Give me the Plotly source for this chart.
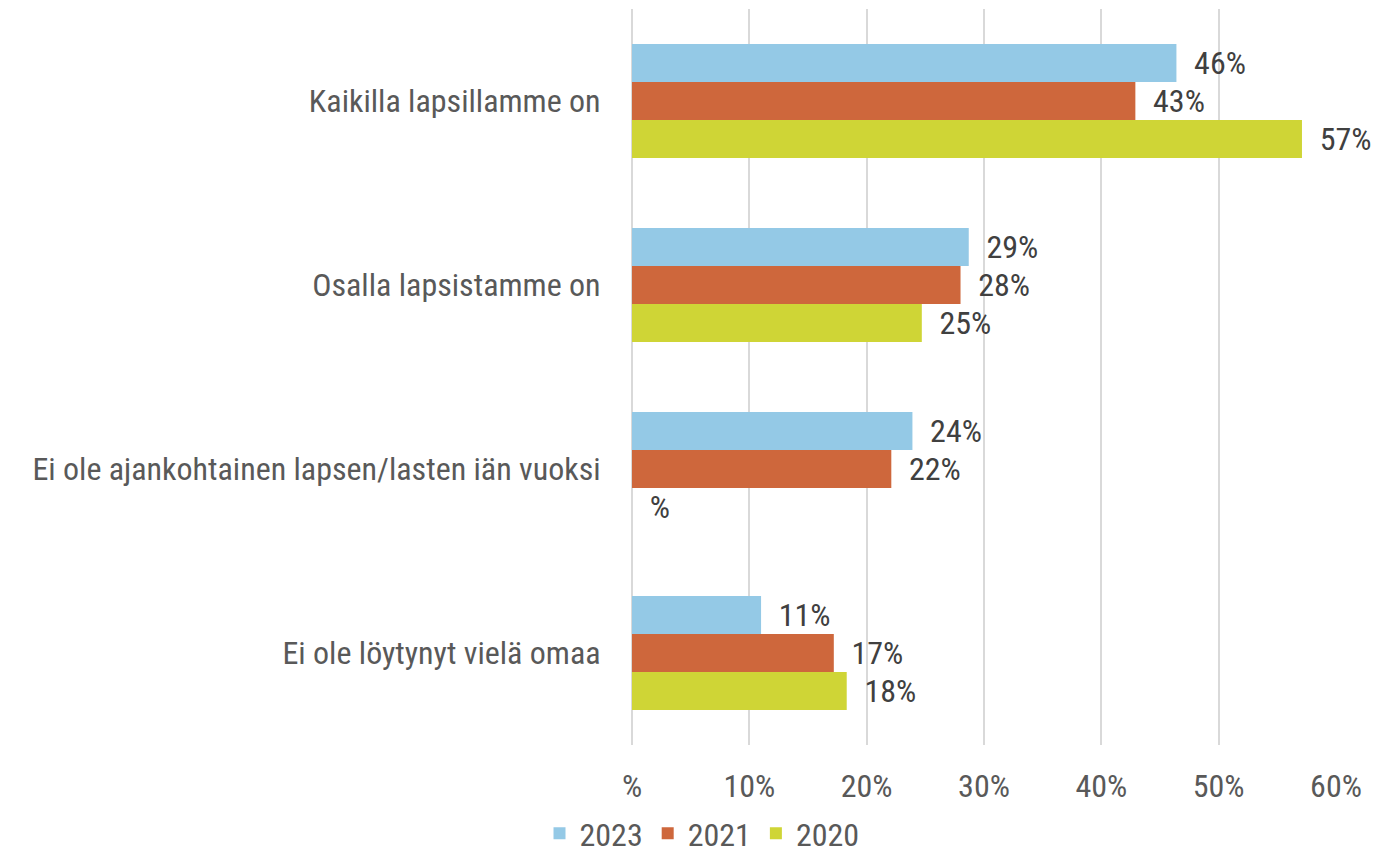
import plotly.graph_objects as go

categories = ["Kaikilla lapsillamme on", "Osalla lapsistamme on",
              "Ei ole ajankohtainen lapsen/lasten iän vuoksi", "Ei ole löytynyt vielä omaa"]
series_names = ["2023", "2021", "2020"]
values_2023 = [46.4, 28.7, 23.9, 11.0]
values_2021 = [42.9, 28.0, 22.1, 17.2]
values_2020 = [57.1, 24.7, None, 18.3]
colors = ["#94C9E6", "#CE673C", "#CFD536"]
tick_vals = [0, 10, 20, 30, 40, 50, 60]
tick_text = ["%", "10%", "20%", "30%", "40%", "50%", "60%"]

FONT = "Liberation Sans Narrow, Arial Narrow, Roboto Condensed, Liberation Sans, sans-serif"
FS = 32
pad = "\u00a0\u00a0"

fig = go.Figure()
for name, vals, col in zip(series_names, [values_2023, values_2021, values_2020], colors):
    xs = [v if v is not None else 0 for v in vals]
    txt = [pad + (f"{round(v)}%" if v is not None else "%") for v in vals]
    fig.add_trace(go.Bar(
        y=categories, x=xs, name=name, orientation="h",
        marker=dict(color=col, line=dict(width=0)),
        text=txt, textposition="outside", cliponaxis=False,
        constraintext="none",
        textfont=dict(family=FONT, size=FS, color="#404040"),
        hoverinfo="x+y+name",
    ))

# page body adds an 8px offset, so the figure is made 8px smaller
fig.update_layout(
    width=1377, height=853,
    barmode="group", bargap=0.38, bargroupgap=0,
    margin=dict(l=624, r=49, t=1, b=116),
    plot_bgcolor="white", paper_bgcolor="white",
    font=dict(family=FONT, size=FS, color="#595959"),
    legend=dict(orientation="h", xref="container", yref="container",
                x=0.504, xanchor="center", y=0, yanchor="bottom",
                font=dict(family=FONT, size=FS, color="#595959"),
                traceorder="normal", itemwidth=30),
    xaxis=dict(range=[0, 60], tickvals=tick_vals, ticktext=tick_text,
               showgrid=True, gridcolor="#D9D9D9", gridwidth=2,
               zeroline=True, zerolinecolor="#D9D9D9", zerolinewidth=2,
               showline=False, ticks="outside", ticklen=13, tickcolor="rgba(0,0,0,0)",
               tickfont=dict(family=FONT, size=FS, color="#595959"), fixedrange=True),
    yaxis=dict(autorange="reversed", showgrid=False, showline=False,
               ticks="outside", ticklen=24, tickcolor="rgba(0,0,0,0)",
               tickfont=dict(family=FONT, size=FS, color="#595959"), fixedrange=True),
)

fig.write_html("out.html")
